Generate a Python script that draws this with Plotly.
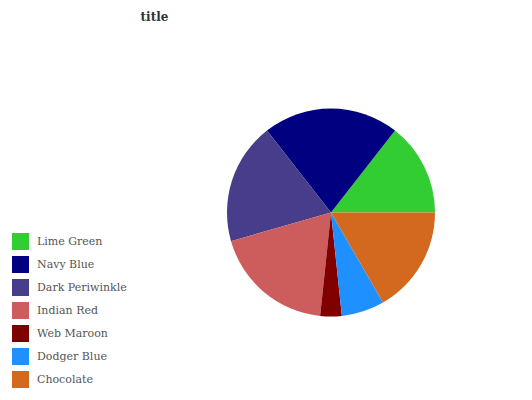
import plotly.graph_objects as go

labels = ["Lime Green", "Navy Blue", "Dark Periwinkle", "Indian Red", "Web Maroon", "Dodger Blue", "Chocolate"]
values = [13, 19, 17, 17, 3, 6, 15]
colors = ["#32CD32", "#000080", "#483D8B", "#CD5C5C", "#800000", "#1E90FF", "#D2691E"]

W, H = 532, 400
cx, cy, r = 331, 212.5, 104

fig = go.Figure(go.Pie(
    labels=labels, values=values, sort=False, direction="counterclockwise", rotation=38,
    marker=dict(colors=colors, line=dict(width=0)),
    textinfo="none", hoverinfo="label+value", showlegend=False,
    domain=dict(x=[(cx - r) / W, (cx + r) / W], y=[1 - (cy + r) / H, 1 - (cy - r) / H]),
))

# legend drawn from labels/colors
lx0, lsz, ly0, lstep = 12, 17, 241.5, 23
shapes, annots = [], []
for i, (lab, col) in enumerate(zip(labels, colors)):
    yc = ly0 + i * lstep
    shapes.append(dict(type="rect", xref="paper", yref="paper",
                       x0=lx0 / W, x1=(lx0 + lsz) / W,
                       y0=1 - (yc + lsz / 2) / H, y1=1 - (yc - lsz / 2) / H,
                       fillcolor=col, line=dict(width=0)))
    annots.append(dict(text=lab, xref="paper", yref="paper", x=35 / W, y=1 - yc / H,
                       xanchor="left", yanchor="middle", showarrow=False,
                       font=dict(family="DejaVu Serif", size=11, color="#555555")))

fig.update_layout(
    width=W, height=H,
    margin=dict(l=0, r=0, t=0, b=0),
    paper_bgcolor="white", plot_bgcolor="white",
    title=dict(text="<b>title</b>", x=154.5 / W, xanchor="center", y=1 - 16.5 / H, yanchor="middle",
               font=dict(family="DejaVu Serif", size=12, color="#333333")),
    shapes=shapes, annotations=annots,
    showlegend=False,
)
fig.write_html("out.html")
